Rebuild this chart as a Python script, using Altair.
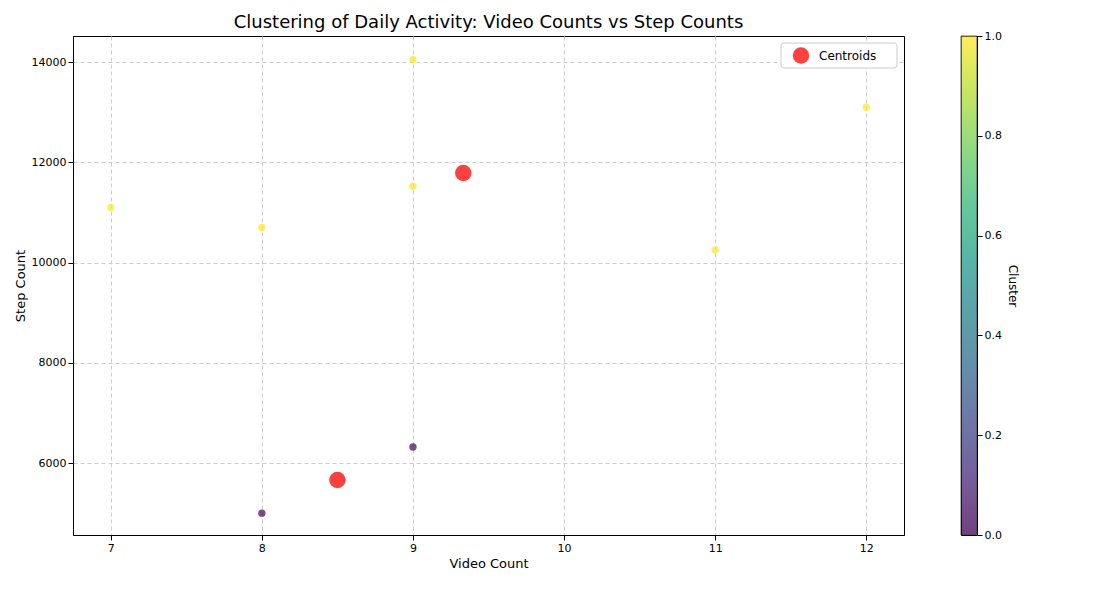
import altair as alt
import pandas as pd

video_count = [7, 8, 9, 9, 11, 12, 8, 9]
step_count = [11100, 10700, 14050, 11520, 10250, 13100, 5000, 6320]
cluster = [1, 1, 1, 1, 1, 1, 0, 0]

centroid_x = [9.333, 8.5]
centroid_y = [11787, 5660]

viridis = ["#440154", "#482878", "#3e4989", "#31688e", "#26828e",
           "#1f9e89", "#35b779", "#6ece58", "#b5de2b", "#fde725"]

font = "DejaVu Sans"
pts = pd.DataFrame({"video": video_count, "steps": step_count, "cluster": cluster})
cen = pd.DataFrame({"video": centroid_x, "steps": centroid_y})

xs = alt.Scale(domain=[6.75, 12.25], nice=False, zero=False)
ys = alt.Scale(domain=[4564, 14519], nice=False, zero=False)
grid_axis = dict(gridDash=[4, 3], gridColor="#cccccc", labelFontSize=11,
                 titleFontSize=13, labelColor="black", titleColor="black",
                 domainColor="black", tickColor="black", titleFontWeight="normal")

points = alt.Chart(pts).mark_circle(size=55, opacity=0.7).encode(
    x=alt.X("video:Q", scale=xs, title="Video Count",
            axis=alt.Axis(values=[7, 8, 9, 10, 11, 12], format="d", **grid_axis)),
    y=alt.Y("steps:Q", scale=ys, title="Step Count",
            axis=alt.Axis(values=[6000, 8000, 10000, 12000, 14000], format="d", **grid_axis)),
    color=alt.Color("cluster:Q", scale=alt.Scale(domain=[0, 1], range=viridis), legend=None),
)

centroids = alt.Chart(cen).mark_circle(size=270, opacity=0.75, color="red").encode(
    x="video:Q",
    y="steps:Q",
)

# hand-made legend box in the top right corner
one = pd.DataFrame({"label": ["Centroids"]})
box = alt.Chart(one).mark_rect(fill="white", stroke="#cccccc", cornerRadius=3).encode(
    x=alt.value(708), x2=alt.value(824), y=alt.value(7), y2=alt.value(32))
sym = alt.Chart(one).mark_circle(size=270, opacity=0.75, color="red").encode(
    x=alt.value(728), y=alt.value(19.5))
txt = alt.Chart(one).mark_text(align="left", baseline="middle", fontSize=12, font=font).encode(
    x=alt.value(746), y=alt.value(19.5), text="label:N")

main = alt.layer(points, centroids, box, sym, txt).properties(
    width=831, height=499,
    title=alt.Title("Clustering of Daily Activity: Video Counts vs Step Counts",
                    fontSize=18, fontWeight="normal", font=font),
)

bar = alt.Chart(pd.DataFrame({"a": [0], "b": [1]})).mark_rect(
    color=alt.Gradient(gradient="linear", x1=0, x2=0, y1=1, y2=0,
                       stops=[alt.GradientStop(offset=i / 9, color=c) for i, c in enumerate(viridis)]),
    opacity=0.75,
    stroke="black", strokeWidth=0.8,
).encode(
    y=alt.Y("a:Q", scale=alt.Scale(domain=[0, 1], nice=False), title="Cluster",
            axis=alt.Axis(orient="right", values=[0, 0.2, 0.4, 0.6, 0.8, 1.0], format=".1f",
                          grid=False, domain=False, labelFontSize=11, titleFontSize=12,
                          titleFontWeight="normal", labelColor="black", titleColor="black",
                          tickColor="black")),
    y2="b:Q",
    x=alt.value(0), x2=alt.value(16),
).properties(width=16, height=499)

chart = alt.hconcat(main, bar, spacing=55).configure(font=font).configure_view(
    stroke="black"
).configure_concat(spacing=55)

chart.save("out.html", embed_options={"renderer": "svg", "actions": False})
